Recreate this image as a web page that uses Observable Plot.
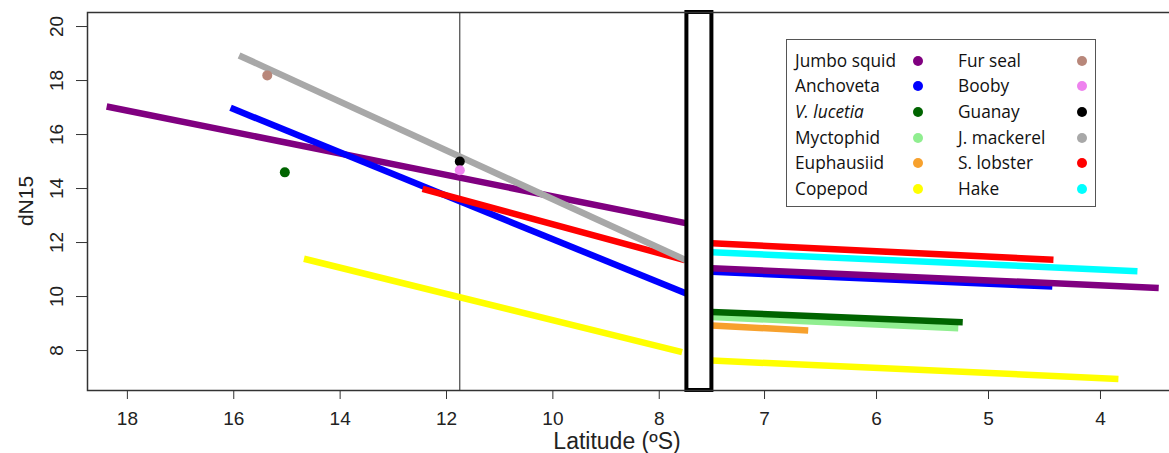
<!DOCTYPE html>
<html><head><meta charset="utf-8">
<script src="https://cdn.jsdelivr.net/npm/d3@7"></script>
<script src="https://cdn.jsdelivr.net/npm/@observablehq/plot@0.6"></script>
<style>
body{margin:0;background:#fff;}
#wrap{position:relative;width:1169px;height:453px;overflow:hidden;font-family:"Liberation Sans",Arial,sans-serif;}
#wrap svg{max-width:none !important;}
.ov{position:absolute;white-space:nowrap;color:#222;}
#legend{position:absolute;left:786px;top:39px;width:308px;height:166px;border:1.5px solid #555;background:#fff;font-family:"Open Sans",sans-serif;}
#legend .lab{position:absolute;font-size:19px;line-height:19px;transform-origin:0 50%;color:#111;}
#legend .dot{position:absolute;width:10px;height:10px;border-radius:50%;}
</style></head><body><div id="wrap"></div>
<script>
// Legend / species
const legendNames = ["Jumbo squid","Anchoveta","V. lucetia","Myctophid","Euphausiid","Copepod",
                     "Fur seal","Booby","Guanay","J. mackerel","S. lobster","Hake"];
const legendColors = ["#800080","#0000FF","#006400","#90EE90","#F7A12D","#FFFF00",
                      "#B8877A","#EE82EE","#000000","#A8A8A8","#FF0000","#00FFFF"];

// Regression segments (latitude in ºS, dN15)
const segSpecies = ["Jumbo squid","Anchoveta","S. lobster","J. mackerel","Copepod",
                    "Anchoveta","Jumbo squid","S. lobster","Hake","Myctophid","V. lucetia","Euphausiid","Copepod"];
const segLat = [[18.39, 7.48],[16.06, 7.48],[12.45, 7.52],[15.90, 7.48],[14.68, 7.57],
                [7.47, 4.43],[7.47, 3.48],[7.47, 4.42],[7.47, 3.67],[7.47, 5.27],[7.47, 5.23],[7.47, 6.61],[7.47, 3.84]];
const segD15 = [[17.04, 12.71],[16.99, 10.10],[13.99, 11.35],[18.93, 11.33],[11.40, 7.94],
                [10.92, 10.37],[11.05, 10.32],[11.97, 11.36],[11.64, 10.94],[9.24, 8.83],[9.43, 9.05],[8.93, 8.74],[7.63, 6.95]];

// Single points
const ptSpecies = ["Fur seal","V. lucetia","Guanay","Booby"];
const ptLat = [15.37, 15.04, 11.75, 11.75];
const ptD15 = [18.19, 14.60, 15.00, 14.68];

// Axes
const xTicks = [18,16,14,12,10,8,7,6,5,4];
const yTicks = [8,10,12,14,16,18,20];
const refLat = 11.75;          // vertical reference line
const breakLat = [7.48, 7.47]; // axis break (boxed)

const lineRows = [];
segSpecies.forEach((s,i)=>segLat[i].forEach((lat,j)=>lineRows.push({seg:i, species:s, lat, d15:segD15[i][j]})));
const ptRows = ptSpecies.map((s,i)=>({species:s, lat:ptLat[i], d15:ptD15[i]}));

const chart = Plot.plot({
  width:1172, height:453,
  marginLeft:87, marginRight:0, marginTop:12, marginBottom:63,
  style:{fontFamily:"Liberation Sans, Arial, sans-serif", fontSize:"19px", color:"#222", background:"#fff", maxWidth:"none"},
  x:{type:"linear", domain:[18.75, breakLat[0], breakLat[1], 3.39], range:[87, 686.4, 711.4, 1168.3]},
  y:{domain:[6.52, 20.52]},
  color:{type:"ordinal", domain:legendNames, range:legendColors},
  marks:[
    Plot.ruleX([refLat], {stroke:"#222", strokeWidth:1}),
    Plot.line(lineRows, {x:"lat", y:"d15", z:"seg", stroke:"species", strokeWidth:6.5, strokeLinecap:"butt", strokeLinejoin:"round"}),
    Plot.dot(ptRows, {x:"lat", y:"d15", fill:"species", r:5}),
    Plot.rect([{a:breakLat[0], b:breakLat[1]}], {x1:"a", x2:"b", fill:"white", stroke:"black", strokeWidth:4}),
    Plot.frame({stroke:"#333", strokeWidth:1.5}),
    Plot.axisX({ticks:xTicks, tickSize:9, tickPadding:12, fontSize:19, label:null, stroke:"#333"}),
    Plot.axisY({ticks:yTicks, tickSize:11, tickPadding:14, tickRotate:-90, fontSize:19, label:null, stroke:"#333"})
  ]
});
chart.style.maxWidth = "none";
const wrap = document.getElementById("wrap");
wrap.appendChild(chart);

// Axis titles
const xt = document.createElement("div");
xt.className="ov"; xt.textContent="Latitude (ºS)";
Object.assign(xt.style,{left:"617px", top:"430px", fontSize:"23px", lineHeight:"23px", transform:"translateX(-50%)"});
wrap.appendChild(xt);
const yt = document.createElement("div");
yt.className="ov"; yt.textContent="dN15";
Object.assign(yt.style,{left:"25px", top:"201px", fontSize:"21px", lineHeight:"21px", transform:"translate(-50%,-50%) rotate(-90deg)"});
wrap.appendChild(yt);

// Legend
const lg = document.createElement("div"); lg.id="legend"; wrap.appendChild(lg);
const ctx = document.createElement("canvas").getContext("2d");
ctx.font = '19px "Open Sans"';
const k = 101 / ctx.measureText("Jumbo squid").width;
legendNames.forEach((n,i)=>{
  const col = i<6 ? 0 : 1, row = i%6;
  const cy = 20.7 + row*25.65;
  const lab = document.createElement("div"); lab.className="lab"; lab.textContent=n;
  if (n==="V. lucetia") lab.style.fontStyle="italic";
  Object.assign(lab.style,{left:(col?171:8)+"px", top:(cy-10)+"px", transform:`scaleX(${k})`});
  lg.appendChild(lab);
  const d = document.createElement("div"); d.className="dot";
  Object.assign(d.style,{left:(col?290:126)+"px", top:(cy-5)+"px", background:legendColors[i]});
  lg.appendChild(d);
});
</script></body></html>
